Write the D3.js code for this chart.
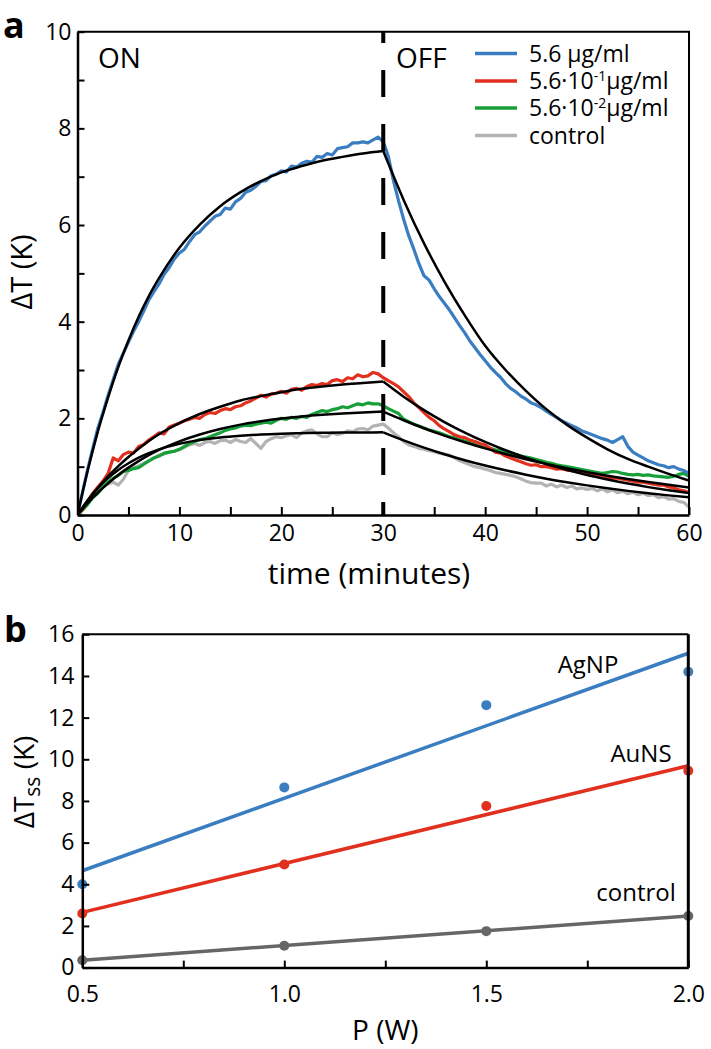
<!DOCTYPE html>
<html><head><meta charset="utf-8">
<script src="https://cdn.jsdelivr.net/npm/d3@7"></script>
<style>
body{margin:0;background:#fff}
svg{display:block}
text{font-family:"Open Sans","Noto Sans",sans-serif;fill:#000}
</style>
</head><body>
<svg id="c" width="711" height="1049"></svg>
<script>
// ---------- Panel a: measured traces, sampled every 0.5 min from 0 to 60 ----------
const sampleTimes = d3.range(0, 60.0001, 0.5);

const blueData = [
 0.00,0.48,0.95,1.38,1.80,2.12,2.48,2.80,3.12,3.35,
 3.58,3.80,4.00,4.22,4.45,4.62,4.78,4.98,5.12,5.30,
 5.42,5.50,5.66,5.80,5.86,5.98,6.08,6.18,6.22,6.35,
 6.33,6.48,6.55,6.68,6.72,6.80,6.90,6.92,7.02,7.05,
 7.12,7.10,7.22,7.20,7.28,7.32,7.30,7.42,7.40,7.48,
 7.45,7.58,7.60,7.62,7.70,7.70,7.72,7.70,7.76,7.82,
 7.72,
 7.42,6.92,6.50,6.12,5.78,5.50,5.20,4.95,4.86,4.68,
 4.52,4.38,4.24,4.08,3.92,3.77,3.60,3.46,3.32,3.19,
 3.06,2.95,2.85,2.72,2.62,2.55,2.46,2.40,2.32,2.28,
 2.22,2.15,2.08,2.02,1.95,1.90,1.85,1.80,1.74,1.70,
 1.66,1.62,1.58,1.55,1.50,1.56,1.62,1.42,1.30,1.24,
 1.18,1.12,1.08,1.04,1.02,0.98,1.00,0.95,0.92,0.86];

const redData = [
 0.00,0.12,0.28,0.45,0.58,0.70,0.86,1.18,1.12,1.25,
 1.30,1.28,1.42,1.46,1.55,1.62,1.70,1.68,1.82,1.86,
 1.90,1.95,1.98,2.02,2.00,2.08,2.12,2.10,2.16,2.20,
 2.18,2.24,2.26,2.32,2.36,2.42,2.48,2.44,2.50,2.52,
 2.56,2.52,2.60,2.62,2.58,2.66,2.70,2.68,2.72,2.70,
 2.78,2.80,2.76,2.84,2.82,2.90,2.86,2.88,2.95,2.92,
 2.84,
 2.78,2.72,2.65,2.55,2.45,2.32,2.22,2.12,2.02,1.95,
 1.85,1.78,1.72,1.66,1.62,1.60,1.55,1.52,1.48,1.45,
 1.38,1.30,1.28,1.22,1.18,1.14,1.10,1.06,1.03,1.04,
 1.00,1.00,0.98,0.95,0.96,0.93,0.92,0.90,0.90,0.86,
 0.85,0.83,0.82,0.78,0.76,0.76,0.74,0.72,0.70,0.68,
 0.68,0.66,0.64,0.62,0.62,0.58,0.56,0.52,0.50,0.46];

const greenData = [
 0.00,0.10,0.22,0.36,0.45,0.58,0.68,0.76,0.82,0.90,
 0.92,0.96,0.98,1.05,1.12,1.18,1.22,1.28,1.30,1.32,
 1.36,1.42,1.48,1.52,1.56,1.58,1.62,1.66,1.70,1.75,
 1.78,1.80,1.84,1.86,1.85,1.88,1.90,1.92,1.90,1.96,
 2.00,1.98,2.02,2.00,2.04,2.02,2.08,2.12,2.16,2.14,
 2.18,2.20,2.24,2.22,2.26,2.30,2.28,2.32,2.30,2.30,
 2.26,
 2.20,2.15,2.10,1.98,1.93,1.88,1.84,1.80,1.76,1.73,
 1.70,1.66,1.62,1.60,1.56,1.53,1.50,1.46,1.42,1.40,
 1.38,1.35,1.34,1.30,1.27,1.25,1.22,1.20,1.18,1.15,
 1.12,1.09,1.07,1.04,1.02,1.00,0.98,0.96,0.94,0.92,
 0.90,0.88,0.86,0.88,0.90,0.89,0.86,0.84,0.83,0.84,
 0.82,0.83,0.81,0.80,0.79,0.78,0.80,0.84,0.86,0.80];

const controlData = [
 0.00,0.12,0.26,0.42,0.50,0.58,0.64,0.68,0.62,0.74,
 0.92,0.98,1.02,1.07,1.12,1.18,1.24,1.26,1.30,1.32,
 1.35,1.40,1.45,1.48,1.44,1.50,1.52,1.48,1.54,1.55,
 1.50,1.56,1.52,1.50,1.58,1.48,1.38,1.52,1.58,1.62,
 1.60,1.64,1.66,1.60,1.70,1.74,1.76,1.68,1.62,1.62,
 1.70,1.66,1.69,1.74,1.72,1.78,1.79,1.76,1.84,1.86,
 1.88,
 1.80,1.70,1.62,1.52,1.45,1.42,1.38,1.36,1.33,1.31,
 1.28,1.26,1.24,1.18,1.12,1.08,1.04,1.00,0.98,0.95,
 0.92,0.88,0.86,0.84,0.82,0.79,0.75,0.70,0.67,0.66,
 0.66,0.60,0.64,0.58,0.62,0.57,0.60,0.54,0.56,0.53,
 0.55,0.50,0.54,0.48,0.52,0.46,0.49,0.44,0.47,0.42,
 0.45,0.40,0.42,0.36,0.38,0.33,0.34,0.28,0.26,0.16];

// ---------- Panel a: fitted curves (heating and cooling parts) ----------
const fitTimesRise  = [0,1,2,3,4,5,6,7,8,10,12,14,16,18,20,22,24,26,28,30];
const fitTimesDecay = [30,32,34,36,38,40,42,44,46,48,50,52,54,56,58,60];

const blueFitRise  = [0,0.92,1.73,2.43,3.06,3.61,4.10,4.53,4.90,5.53,6.01,6.39,6.68,6.91,7.09,7.22,7.33,7.41,7.48,7.53];
const blueFitDecay = [7.53,6.52,5.62,4.83,4.13,3.50,3.00,2.57,2.19,1.87,1.60,1.36,1.16,1.00,0.85,0.71];
const redFitRise   = [0,0.30,0.56,0.80,1.01,1.20,1.37,1.53,1.67,1.90,2.09,2.24,2.37,2.46,2.54,2.61,2.66,2.70,2.73,2.76];
const redFitDecay  = [2.76,2.447,2.169,1.923,1.705,1.511,1.340,1.188,1.053,0.933,0.827,0.734,0.650,0.577,0.511,0.453];
const greenFitRise = [0,0.245,0.464,0.655,0.829,0.98,1.116,1.237,1.345,1.525,1.667,1.780,1.870,1.940,1.996,2.040,2.074,2.101,2.123,2.14];
const greenFitDecay= [2.14,1.960,1.795,1.643,1.505,1.378,1.262,1.155,1.058,0.969,0.887,0.812,0.744,0.681,0.624,0.571];
const ctrlFitRise  = [0,0.305,0.556,0.763,0.932,1.07,1.187,1.281,1.358,1.473,1.552,1.605,1.640,1.665,1.681,1.692,1.700,1.705,1.708,1.71];
const ctrlFitDecay = [1.71,1.543,1.393,1.257,1.134,1.024,0.924,0.834,0.752,0.679,0.613,0.553,0.499,0.450,0.406,0.367];

const seriesNames  = ["5.6 μg/ml", "5.6·10-1μg/ml", "5.6·10-2μg/ml", "control"];
const seriesColors = ["#3a7dc1", "#e2301f", "#17a03a", "#b3b3b3"];

const timeTicks  = [0,5,10,15,20,25,30,35,40,45,50,55,60];
const timeLabels = [0,10,20,30,40,50,60];
const tempTicks  = [0,1,2,3,4,5,6,7,8,9,10];
const tempLabels = [0,2,4,6,8,10];
const switchTime = 30;

// ---------- Panel b ----------
const powers      = [0.5, 1.0, 1.5, 2.0];
const agnpPoints  = [4.0, 8.65, 12.6, 14.2];
const aunsPoints  = [2.6, 4.95, 7.76, 9.45];
const ctrlPoints  = [0.35, 1.05, 1.75, 2.48];
const fitPowers   = [0.5, 2.0];
const agnpFit     = [4.65, 15.09];
const aunsFit     = [2.65, 9.69];
const ctrlFit     = [0.35, 2.48];
const bNames      = ["AgNP", "AuNS", "control"];
const bColors     = ["#3a7dc1", "#e2301f", "#666666"];
const powerTicks  = [0.5, 0.75, 1.0, 1.25, 1.5, 1.75, 2.0];
const powerLabels = ["0.5", "1.0", "1.5", "2.0"];
const tssTicks    = [0,2,4,6,8,10,12,14,16];

const svg = d3.select("#c");

// ================= Panel a =================
const xa = d3.scaleLinear().domain([0,60]).range([77.5, 689]);
const ya = d3.scaleLinear().domain([0,10]).range([515, 31.7]);

svg.append("defs").append("clipPath").attr("id","clipA")
  .append("rect").attr("x",xa(0)).attr("y",ya(10)).attr("width",xa(60)-xa(0)).attr("height",ya(0)-ya(10));

const ga = svg.append("g");
const dataSets = [blueData, redData, greenData, controlData];
const lineA = d3.line().x((d,i)=>xa(sampleTimes[i])).y(d=>ya(d));
const dataG = ga.append("g").attr("clip-path","url(#clipA)");
[3,2,1,0].forEach(k=>{
  dataG.append("path").attr("d", lineA(dataSets[k]))
    .attr("fill","none").attr("stroke",seriesColors[k]).attr("stroke-width",3.2)
    .attr("stroke-linejoin","round");
});

const fitsRise  = [blueFitRise, redFitRise, greenFitRise, ctrlFitRise];
const fitsDecay = [blueFitDecay, redFitDecay, greenFitDecay, ctrlFitDecay];
const riseLine  = d3.line().x((d,i)=>xa(fitTimesRise[i])).y(d=>ya(d)).curve(d3.curveMonotoneX);
const decayLine = d3.line().x((d,i)=>xa(fitTimesDecay[i])).y(d=>ya(d)).curve(d3.curveMonotoneX);
for (let k=0;k<4;k++){
  dataG.append("path").attr("d", riseLine(fitsRise[k])).attr("fill","none").attr("stroke","#000").attr("stroke-width",2.5);
  dataG.append("path").attr("d", decayLine(fitsDecay[k])).attr("fill","none").attr("stroke","#000").attr("stroke-width",2.5);
}

// dashed switch line
ga.append("line").attr("x1",xa(switchTime)).attr("x2",xa(switchTime))
  .attr("y1",ya(0)).attr("y2",ya(10))
  .attr("stroke","#000").attr("stroke-width",4)
  .attr("stroke-dasharray","27,27").attr("stroke-dashoffset",14);

// frame
ga.append("path").attr("d",`M${xa(0)},${ya(10)}H${xa(60)}V${ya(0)}`)
  .attr("fill","none").attr("stroke","#000").attr("stroke-width",2);

// axes
const xAxisA = d3.axisBottom(xa).tickValues(timeTicks).tickSize(-8).tickSizeOuter(0).tickPadding(10)
  .tickFormat(d=> timeLabels.includes(d) ? d : "");
const gxa = ga.append("g").attr("transform",`translate(0,${ya(0)})`).call(xAxisA);
const yAxisA = d3.axisLeft(ya).tickValues(tempTicks).tickSize(-7).tickSizeOuter(0).tickPadding(6)
  .tickFormat(d=> tempLabels.includes(d) ? d : "");
const gya = ga.append("g").attr("transform",`translate(${xa(0)},0)`).call(yAxisA);
[gxa,gya].forEach(g=>{
  g.select(".domain").attr("stroke","#000").attr("stroke-width",2.5);
  g.selectAll(".tick line").attr("stroke","#000").attr("stroke-width",2);
  g.selectAll(".tick text").style("font-family",'"Open Sans",sans-serif').style("font-size","23px").attr("fill","#000");
});

// labels
ga.append("text").attr("x",369).attr("y",584).attr("text-anchor","middle")
  .style("font-size","30px").text("time (minutes)");
ga.append("text").attr("transform","translate(32,272) rotate(-90)").attr("text-anchor","middle")
  .style("font-size","29px").text("ΔT (K)");
ga.append("text").attr("x",98).attr("y",68).style("font-size","28px").text("ON");
ga.append("text").attr("x",396).attr("y",68).style("font-size","28px").text("OFF");
svg.append("text").attr("x",3).attr("y",38).style("font-size","36px").style("font-weight","bold").text("a");

// legend
const legY = [53.5, 81, 108, 135.5];
seriesNames.forEach((name,k)=>{
  ga.append("line").attr("x1",475).attr("x2",517).attr("y1",legY[k]).attr("y2",legY[k])
    .attr("stroke",seriesColors[k]).attr("stroke-width",3.5);
  const t = ga.append("text").attr("x",529).attr("y",legY[k]+8).style("font-size","23px");
  const m = name.match(/^(5\.6·10)(-\d)(μg\/ml)$/);
  if (m){
    t.append("tspan").text(m[1]);
    t.append("tspan").attr("dy",-8).style("font-size","14px").text(m[2]);
    t.append("tspan").attr("dy",8).text(m[3]);
  } else t.text(name);
});

// ================= Panel b =================
const xb = d3.scaleLinear().domain([0.5,2.0]).range([82.3, 688.3]);
const yb = d3.scaleLinear().domain([0,16]).range([967.6, 634.3]);
const gb = svg.append("g");

const bPoints = [agnpPoints, aunsPoints, ctrlPoints];
const bFits   = [agnpFit, aunsFit, ctrlFit];
const lineB = d3.line().x((d,i)=>xb(fitPowers[i])).y(d=>yb(d));
[2,1,0].forEach(k=>{
  gb.append("path").attr("d", lineB(bFits[k])).attr("fill","none")
    .attr("stroke",bColors[k]).attr("stroke-width",3.5);
});
[2,1,0].forEach(k=>{
  gb.selectAll(null).data(bPoints[k]).enter().append("circle")
    .attr("cx",(d,i)=>xb(powers[i])).attr("cy",d=>yb(d)).attr("r",5)
    .attr("fill",bColors[k]);
});

// frame
gb.append("line").attr("x1",xb(0.5)).attr("x2",xb(2.0)).attr("y1",yb(16)).attr("y2",yb(16))
  .attr("stroke","#000").attr("stroke-width",2);
gb.append("line").attr("x1",xb(2.0)).attr("x2",xb(2.0)).attr("y1",yb(16)).attr("y2",yb(0))
  .attr("stroke","#000").attr("stroke-width",3);

const xAxisB = d3.axisBottom(xb).tickValues(powerTicks).tickSize(-7).tickSizeOuter(0).tickPadding(18)
  .tickFormat(d=> { const s = d.toFixed(1); return powerLabels.includes(s) && (d*2)%1===0 ? s : ""; });
const gxb = gb.append("g").attr("transform",`translate(0,${yb(0)})`).call(xAxisB);
const yAxisB = d3.axisLeft(yb).tickValues(tssTicks).tickSize(-7).tickSizeOuter(0).tickPadding(8);
const gyb = gb.append("g").attr("transform",`translate(${xb(0.5)},0)`).call(yAxisB);
[gxb,gyb].forEach(g=>{
  g.select(".domain").attr("stroke","#000").attr("stroke-width",2.5);
  g.selectAll(".tick line").attr("stroke","#000").attr("stroke-width",2);
  g.selectAll(".tick text").style("font-family",'"Open Sans",sans-serif').style("font-size","23px").attr("fill","#000");
});

gb.append("text").attr("x",xb(1.25)).attr("y",1040).attr("text-anchor","middle")
  .style("font-size","28px").text("P (W)");
const yl = gb.append("text").attr("transform","translate(34,782) rotate(-90)").attr("text-anchor","middle")
  .style("font-size","28px");
yl.append("tspan").text("ΔT");
yl.append("tspan").attr("dy",6).style("font-size","21px").text("ss");
yl.append("tspan").attr("dy",-6).text(" (K)");

const bLabelPos = [[588,673],[641,762],[636,901]];
bNames.forEach((n,k)=>{
  gb.append("text").attr("x",bLabelPos[k][0]).attr("y",bLabelPos[k][1]).attr("text-anchor","middle")
    .style("font-size","24px").text(n);
});
svg.append("text").attr("x",4).attr("y",642).style("font-size","36px").style("font-weight","bold").text("b");
</script>
</body></html>
